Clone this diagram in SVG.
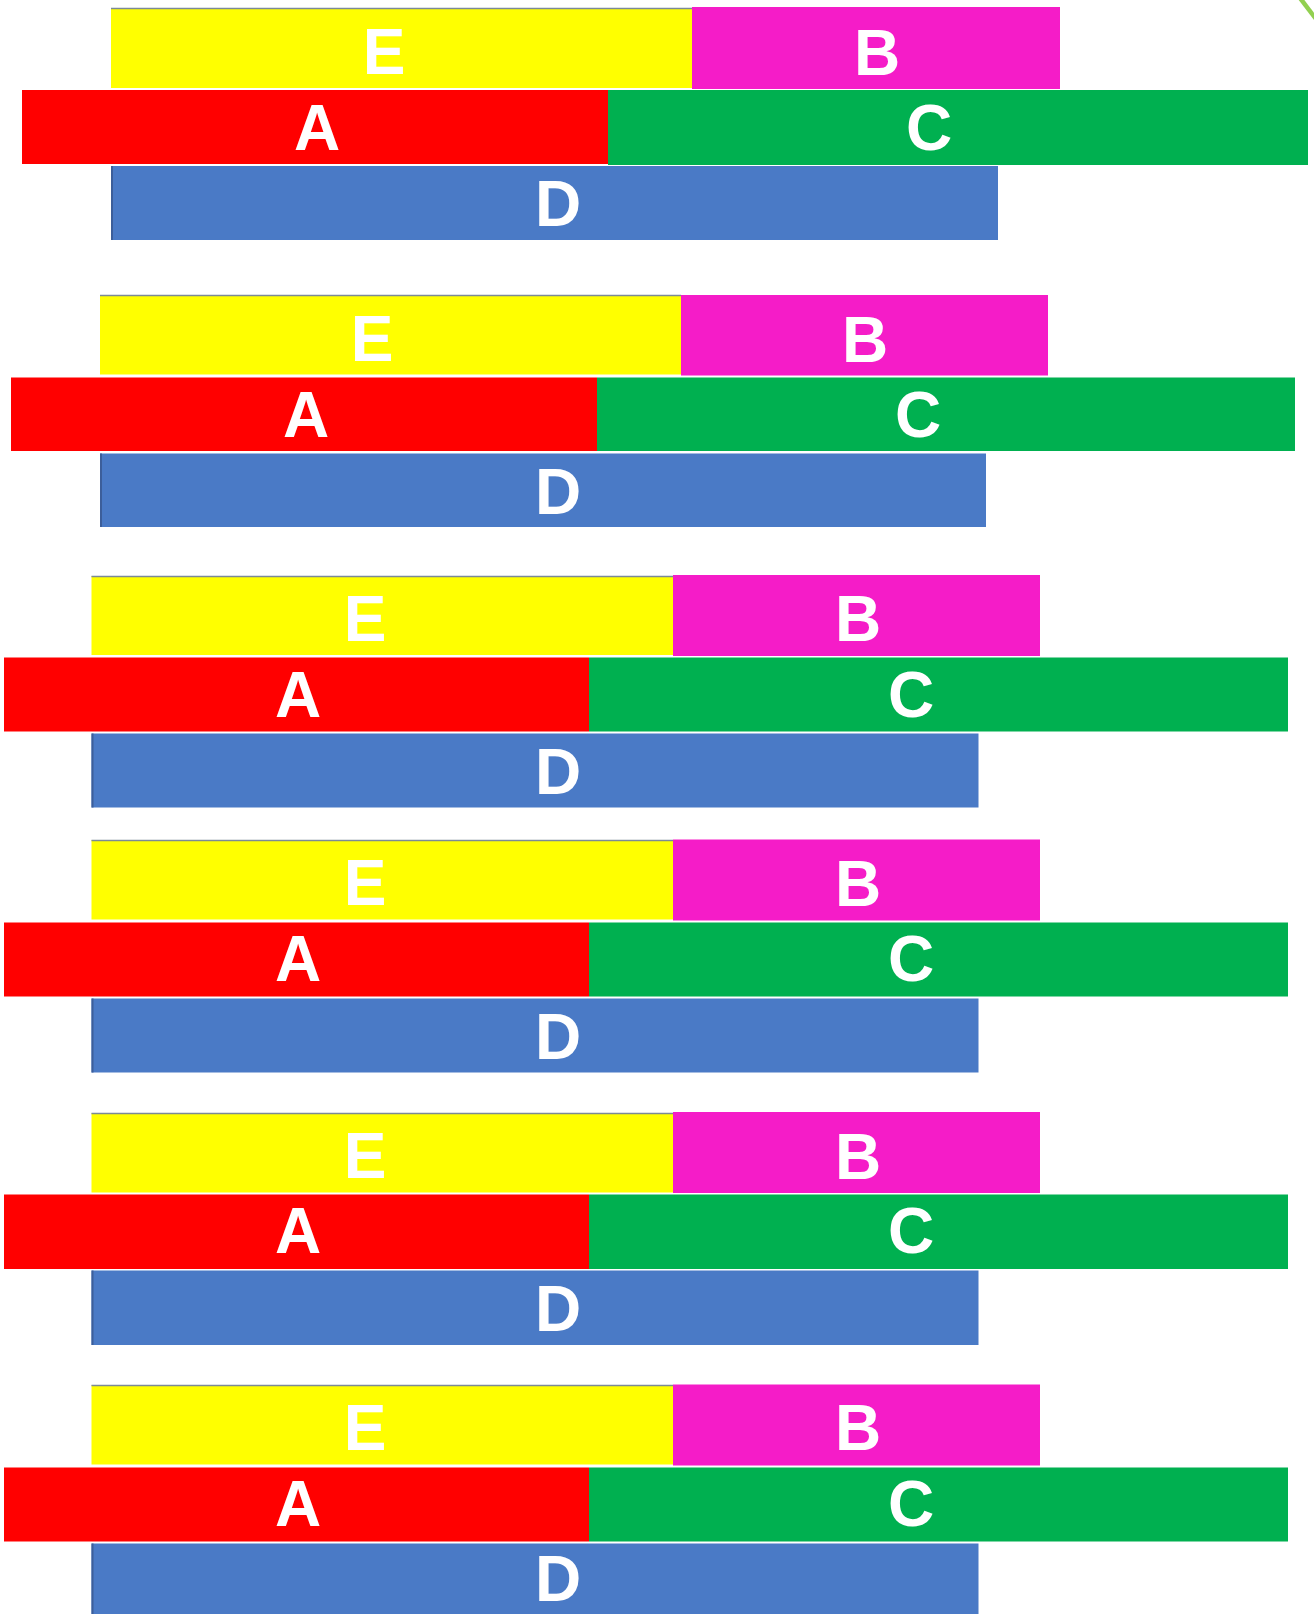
<svg xmlns="http://www.w3.org/2000/svg" width="1314" height="1614" viewBox="0 0 1314 1614">
<style>
.e{fill:#FFFF00}
.b{fill:#F51CC8}
.a{fill:#FF0000}
.c{fill:#00B050}
.d{fill:#4A7AC6}
.edge{stroke:#7C8A96;stroke-width:1.5}
.ledge{stroke:#3C5E9A;stroke-width:2}
text{font-family:"Liberation Sans",Arial,sans-serif;font-weight:bold;font-size:64px;fill:#FFFFFF;text-anchor:middle}
</style>
<rect width="1314" height="1614" fill="#FFFFFF"/>
<g id="connectors"></g>
<line x1="1300" y1="-2" x2="1316" y2="19" stroke="#92D050" stroke-width="4.5"/>

<!-- Group 1 -->
<g id="g1-E"><rect class="e" x="111" y="8" width="582" height="80"/><line class="edge" x1="111" y1="8.5" x2="693" y2="8.5"/><text x="384" y="74">E</text></g>
<g id="g1-B"><rect class="b" x="692" y="7" width="368" height="82"/><text x="877" y="75">B</text></g>
<g id="g1-A"><rect class="a" x="22" y="90" width="586" height="74"/><text x="317" y="150">A</text></g>
<g id="g1-C"><rect class="c" x="608" y="90" width="700" height="75"/><text x="929" y="150">C</text></g>
<g id="g1-D"><rect class="d" x="111" y="166" width="887" height="74"/><line class="ledge" x1="112" y1="166" x2="112" y2="240"/><text x="558" y="226">D</text></g>

<!-- Group 2 -->
<g id="g2-E"><rect class="e" x="100" y="295" width="581" height="79.5"/><line class="edge" x1="100" y1="295.5" x2="681" y2="295.5"/><text x="372" y="361">E</text></g>
<g id="g2-B"><rect class="b" x="681" y="295" width="367" height="80.5"/><text x="865" y="362">B</text></g>
<g id="g2-A"><rect class="a" x="11" y="377.5" width="586" height="73.5"/><text x="306" y="437">A</text></g>
<g id="g2-C"><rect class="c" x="597" y="377.5" width="698" height="73.5"/><text x="918" y="437">C</text></g>
<g id="g2-D"><rect class="d" x="100" y="453.5" width="886" height="73.5"/><line class="ledge" x1="101" y1="453.5" x2="101" y2="527"/><text x="558" y="514">D</text></g>

<!-- Group 3 -->
<g id="g3-E"><rect class="e" x="91.5" y="576" width="582" height="79"/><line class="edge" x1="91.5" y1="576.5" x2="673" y2="576.5"/><text x="365" y="641">E</text></g>
<g id="g3-B"><rect class="b" x="673" y="575" width="367" height="81"/><text x="858" y="641">B</text></g>
<g id="g3-A"><rect class="a" x="4" y="657.5" width="585" height="74"/><text x="298" y="717">A</text></g>
<g id="g3-C"><rect class="c" x="589" y="657.5" width="699" height="74"/><text x="911" y="717">C</text></g>
<g id="g3-D"><rect class="d" x="91.5" y="733.5" width="887" height="74"/><line class="ledge" x1="92.5" y1="733.5" x2="92.5" y2="807.5"/><text x="558" y="794">D</text></g>

<!-- Group 4 -->
<g id="g4-E"><rect class="e" x="91.5" y="840" width="582" height="79.5"/><line class="edge" x1="91.5" y1="840.5" x2="673" y2="840.5"/><text x="365" y="905">E</text></g>
<g id="g4-B"><rect class="b" x="673" y="839.5" width="367" height="81"/><text x="858" y="906">B</text></g>
<g id="g4-A"><rect class="a" x="4" y="922.5" width="585" height="74"/><text x="298" y="981">A</text></g>
<g id="g4-C"><rect class="c" x="589" y="922.5" width="699" height="74"/><text x="911" y="981">C</text></g>
<g id="g4-D"><rect class="d" x="91.5" y="998.5" width="887" height="74"/><line class="ledge" x1="92.5" y1="998.5" x2="92.5" y2="1072.5"/><text x="558" y="1059">D</text></g>

<!-- Group 5 -->
<g id="g5-E"><rect class="e" x="91.5" y="1113" width="582" height="79.5"/><line class="edge" x1="91.5" y1="1113.5" x2="673" y2="1113.5"/><text x="365" y="1178">E</text></g>
<g id="g5-B"><rect class="b" x="673" y="1112" width="367" height="81"/><text x="858" y="1179">B</text></g>
<g id="g5-A"><rect class="a" x="4" y="1194.5" width="585" height="74.5"/><text x="298" y="1253">A</text></g>
<g id="g5-C"><rect class="c" x="589" y="1194.5" width="699" height="74.5"/><text x="911" y="1253">C</text></g>
<g id="g5-D"><rect class="d" x="91.5" y="1270.5" width="887" height="74.5"/><line class="ledge" x1="92.5" y1="1270.5" x2="92.5" y2="1345"/><text x="558" y="1331">D</text></g>

<!-- Group 6 -->
<g id="g6-E"><rect class="e" x="91.5" y="1385" width="582" height="79.5"/><line class="edge" x1="91.5" y1="1385.5" x2="673" y2="1385.5"/><text x="365" y="1450">E</text></g>
<g id="g6-B"><rect class="b" x="673" y="1384.5" width="367" height="81"/><text x="858" y="1450">B</text></g>
<g id="g6-A"><rect class="a" x="4" y="1467.5" width="585" height="74"/><text x="298" y="1526">A</text></g>
<g id="g6-C"><rect class="c" x="589" y="1467.5" width="699" height="74"/><text x="911" y="1526">C</text></g>
<g id="g6-D"><rect class="d" x="91.5" y="1543.5" width="887" height="71"/><line class="ledge" x1="92.5" y1="1543.5" x2="92.5" y2="1614"/><text x="558" y="1601">D</text></g>
</svg>
